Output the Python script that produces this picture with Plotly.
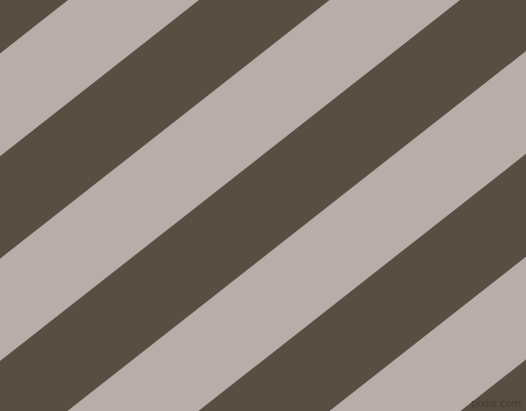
"""
plot.py

Diagonal two-tone stripes (dark brown / greyish pink), drawn as filled
polygons on a pixel-sized axis.
"""

import plotly.graph_objects as go

# Colors
DARK_COLOR = '#594e42'
LIGHT_COLOR = '#b9adaa'
MARK_COLOR = '#433a31'

# Stripe boundaries: where each edge crosses the top of the picture (px)
light_starts = [68, 329.5, 591, 853]
light_ends = [199, 460, 722, 984]

# Edge slope (px down per px left)
SLOPE = 0.785

W, H = 526, 411

fig = go.Figure()

for c1, c2 in zip(light_starts, light_ends):
    y0, y1 = -20, H + 20
    xs = [c1 - y0 / SLOPE, c2 - y0 / SLOPE, c2 - y1 / SLOPE, c1 - y1 / SLOPE, c1 - y0 / SLOPE]
    ys = [y0, y0, y1, y1, y0]
    fig.add_trace(go.Scatter(
        x=xs, y=ys,
        mode='lines',
        fill='toself',
        fillcolor=LIGHT_COLOR,
        line=dict(color=LIGHT_COLOR, width=0),
        hoverinfo='skip',
        showlegend=False,
    ))

# watermark, bottom right
fig.add_annotation(
    text='pixlis.com',
    x=523, y=403,
    xref='x', yref='y',
    xanchor='right', yanchor='middle',
    showarrow=False,
    font=dict(family='DejaVu Sans', size=10, color=MARK_COLOR),
)

fig.update_layout(
    width=W,
    height=H,
    margin=dict(t=0, b=0, l=0, r=0),
    paper_bgcolor=DARK_COLOR,
    plot_bgcolor=DARK_COLOR,
    xaxis=dict(range=[0, W], visible=False, fixedrange=True),
    yaxis=dict(range=[H, 0], visible=False, fixedrange=True),
)

# drop the browser's default body margin so the figure fills the window
fig.write_html(
    'out.html',
    config={'displayModeBar': False},
    post_script="document.body.style.margin='0';document.body.style.overflow='hidden';",
)
